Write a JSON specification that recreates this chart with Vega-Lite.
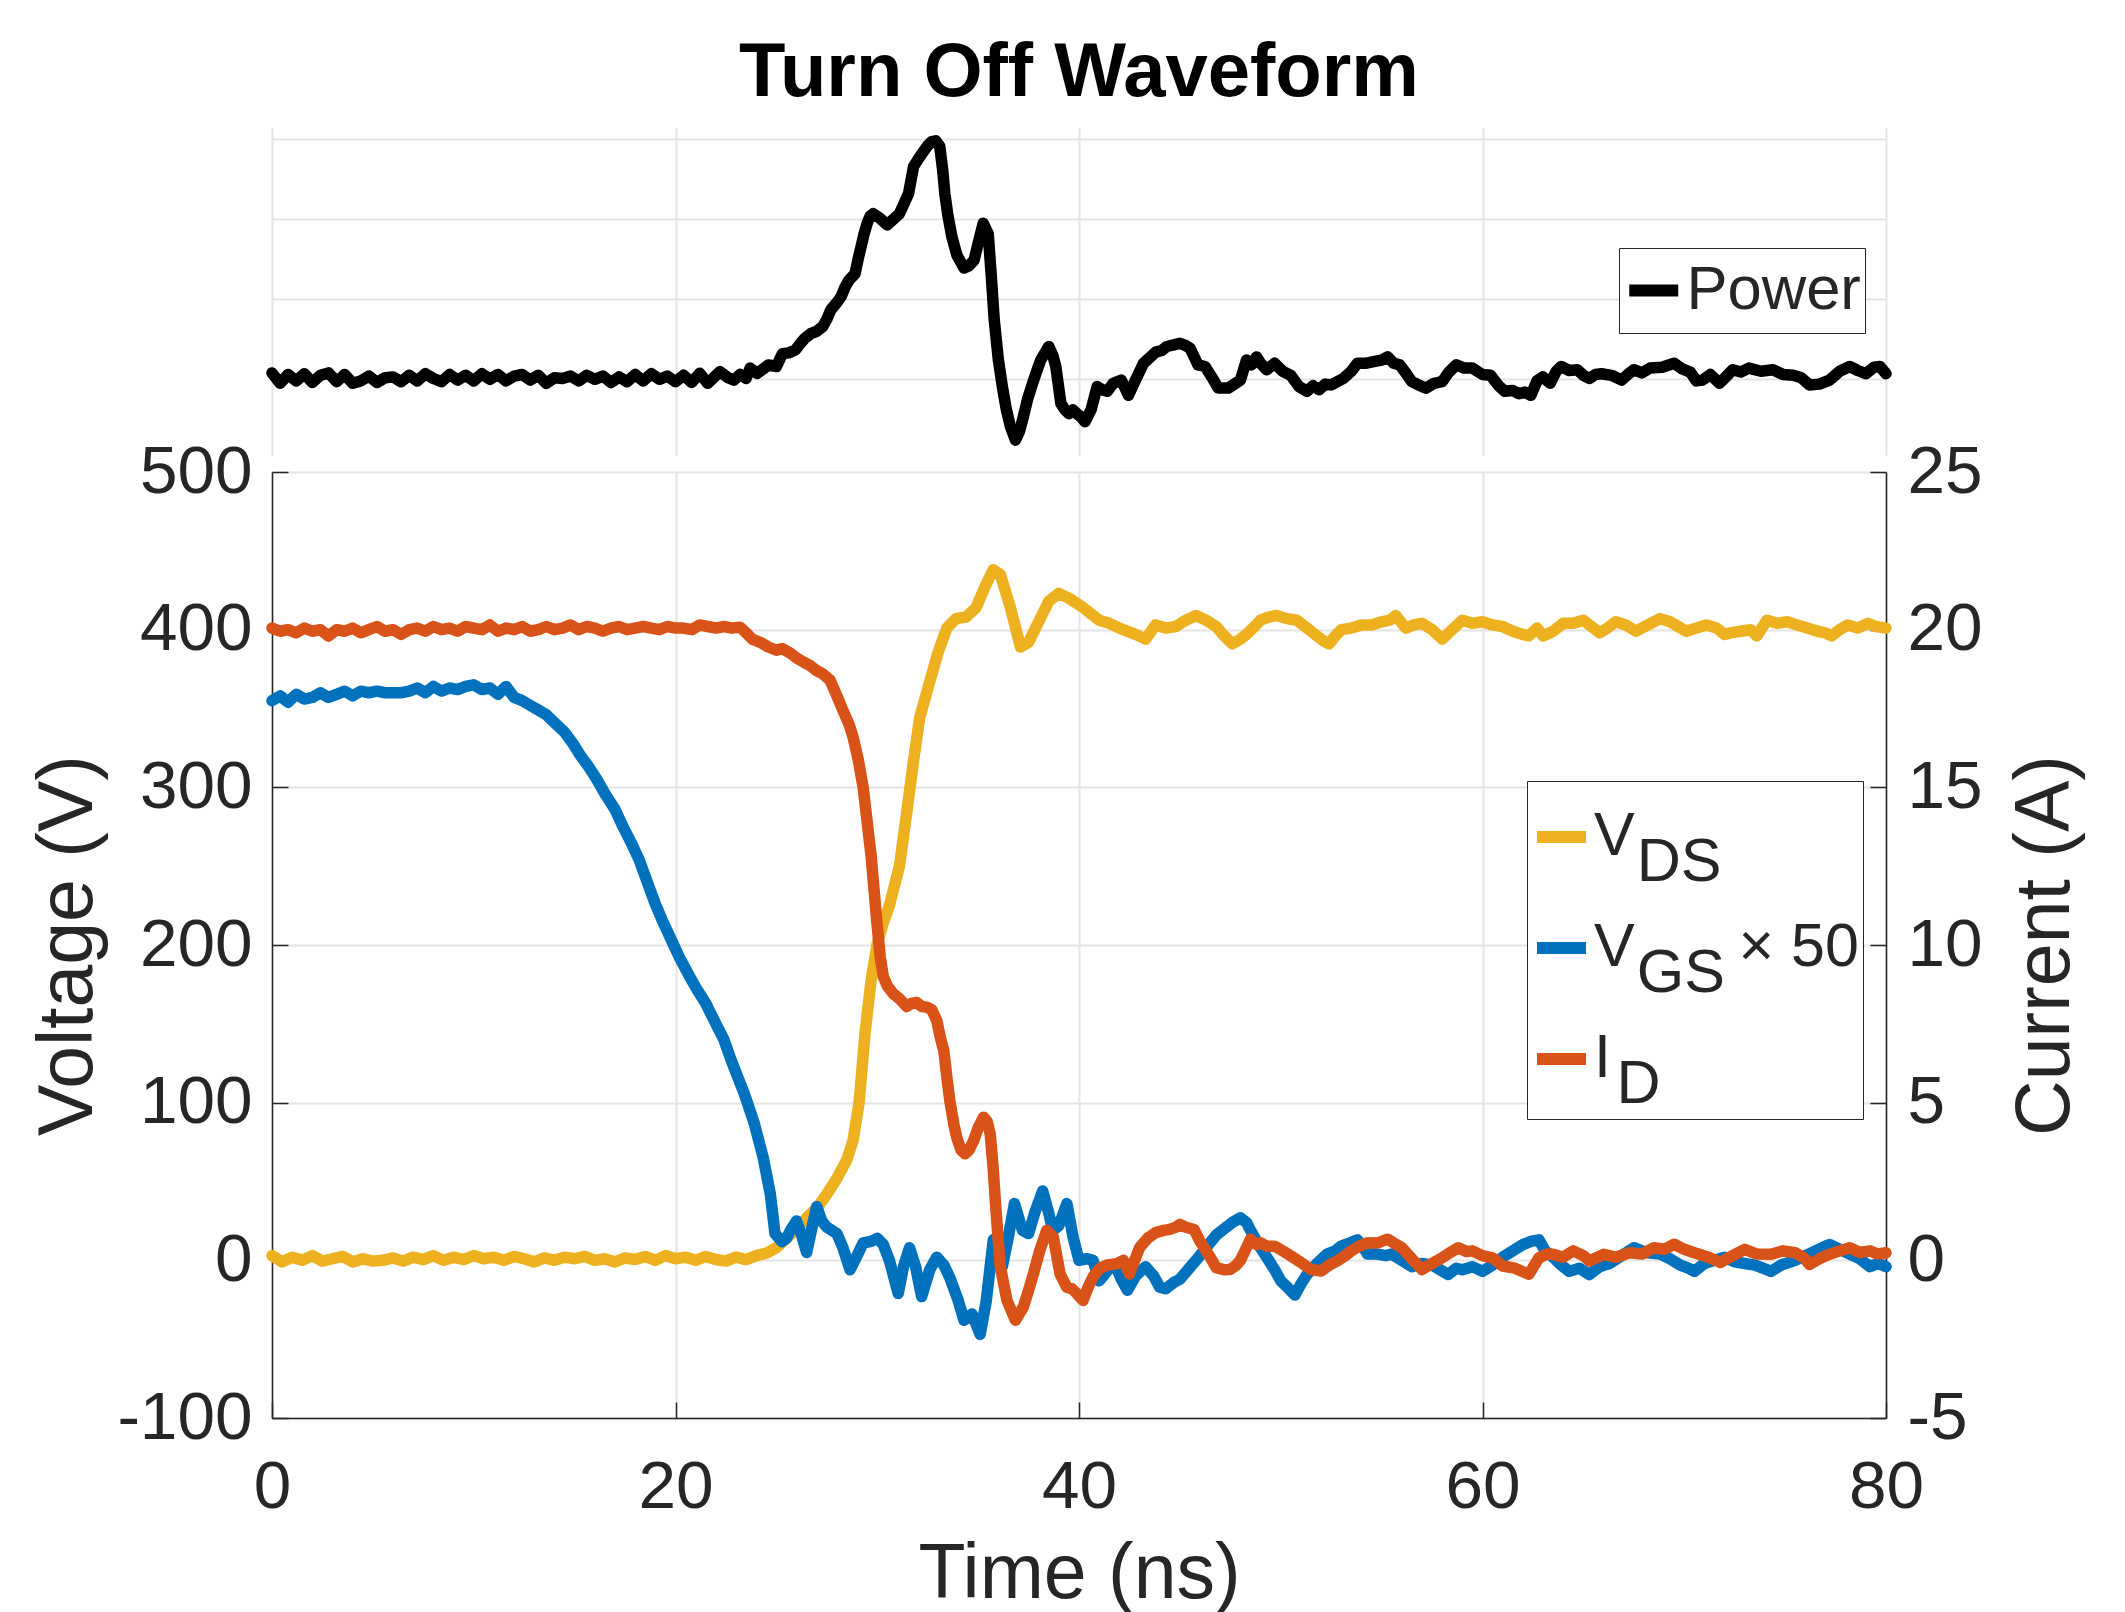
{
  "$schema": "https://vega.github.io/schema/vega-lite/v6.json",
  "width": 1614,
  "height": 1290,
  "autosize": {"type": "none"},
  "padding": {"left": 272, "top": 128, "right": 239, "bottom": 194},
  "background": "white",
  "title": {"text": "Turn Off Waveform", "fontSize": 76, "fontWeight": "bold", "anchor": "middle", "frame": "group", "offset": 30, "dy": 74, "baseline": "alphabetic", "color": "#000000", "font": "Liberation Sans"},
  "config": {
    "font": "Liberation Sans",
    "view": {"stroke": null},
    "axis": {"domainColor": "#262626", "domainWidth": 1.5, "tickColor": "#262626", "tickWidth": 1.5, "tickSize": -16, "labelColor": "#262626", "labelFont": "Liberation Sans", "labelFontSize": 67.5, "titleFont": "Liberation Sans", "titleFontSize": 77, "titleFontWeight": "normal", "titleColor": "#262626", "gridColor": "#e4e4e4", "gridWidth": 2, "labelOverlap": false},
    "legend": {"labelFont": "Liberation Sans", "labelColor": "#262626"},
    "style": {"guide-label": {"lineHeight": 26}}
  },
  "datasets": {
    "pw": [{"t":0,"v":0.08},{"t":0.4,"v":-0.05},{"t":0.8,"v":0.06},{"t":1.2,"v":-0.02},{"t":1.6,"v":0.07},{"t":2.0,"v":-0.04},{"t":2.4,"v":0.05},{"t":2.8,"v":0.08},{"t":3.2,"v":-0.03},{"t":3.6,"v":0.06},{"t":4.0,"v":-0.05},{"t":4.4,"v":-0.02},{"t":4.8,"v":0.04},{"t":5.2,"v":-0.04},{"t":5.6,"v":0.02},{"t":6.0,"v":0.03},{"t":6.4,"v":-0.03},{"t":6.8,"v":0.05},{"t":7.2,"v":-0.02},{"t":7.6,"v":0.07},{"t":8.0,"v":0.01},{"t":8.4,"v":-0.03},{"t":8.8,"v":0.06},{"t":9.2,"v":-0.01},{"t":9.6,"v":0.05},{"t":10.0,"v":-0.02},{"t":10.4,"v":0.07},{"t":10.8,"v":0.0},{"t":11.2,"v":0.06},{"t":11.6,"v":-0.02},{"t":12.0,"v":0.04},{"t":12.4,"v":0.06},{"t":12.8,"v":-0.01},{"t":13.2,"v":0.05},{"t":13.6,"v":-0.05},{"t":14.0,"v":0.02},{"t":14.4,"v":0.01},{"t":14.8,"v":0.04},{"t":15.2,"v":-0.02},{"t":15.6,"v":0.05},{"t":16.0,"v":0.0},{"t":16.4,"v":0.04},{"t":16.8,"v":-0.04},{"t":17.2,"v":0.03},{"t":17.6,"v":-0.03},{"t":18.0,"v":0.06},{"t":18.4,"v":-0.02},{"t":18.8,"v":0.07},{"t":19.2,"v":0.0},{"t":19.6,"v":0.04},{"t":20.0,"v":-0.03},{"t":20.4,"v":0.05},{"t":20.8,"v":-0.04},{"t":21.2,"v":0.075},{"t":21.6,"v":-0.05},{"t":22.2,"v":0.095},{"t":22.6,"v":0.02},{"t":22.9,"v":-0.01},{"t":23.2,"v":0.06},{"t":23.5,"v":0.01},{"t":23.7,"v":0.14},{"t":24.05,"v":0.075},{"t":24.35,"v":0.13},{"t":24.6,"v":0.18},{"t":25.0,"v":0.16},{"t":25.3,"v":0.32},{"t":25.6,"v":0.33},{"t":25.95,"v":0.37},{"t":26.2,"v":0.45},{"t":26.4,"v":0.51},{"t":26.7,"v":0.57},{"t":27.0,"v":0.6},{"t":27.3,"v":0.66},{"t":27.5,"v":0.75},{"t":27.7,"v":0.87},{"t":28.0,"v":0.96},{"t":28.2,"v":1.03},{"t":28.4,"v":1.15},{"t":28.6,"v":1.24},{"t":28.9,"v":1.32},{"t":29.05,"v":1.5},{"t":29.2,"v":1.66},{"t":29.35,"v":1.82},{"t":29.5,"v":1.95},{"t":29.65,"v":2.04},{"t":29.8,"v":2.07},{"t":30.1,"v":2.02},{"t":30.5,"v":1.93},{"t":30.8,"v":2.0},{"t":31.1,"v":2.07},{"t":31.3,"v":2.18},{"t":31.55,"v":2.32},{"t":31.8,"v":2.66},{"t":32.05,"v":2.76},{"t":32.3,"v":2.85},{"t":32.5,"v":2.92},{"t":32.7,"v":2.97},{"t":32.9,"v":2.98},{"t":33.1,"v":2.91},{"t":33.25,"v":2.6},{"t":33.35,"v":2.32},{"t":33.5,"v":2.05},{"t":33.7,"v":1.78},{"t":33.95,"v":1.55},{"t":34.3,"v":1.39},{"t":34.55,"v":1.42},{"t":34.8,"v":1.49},{"t":35.0,"v":1.7},{"t":35.25,"v":1.95},{"t":35.5,"v":1.82},{"t":35.65,"v":1.3},{"t":35.8,"v":0.74},{"t":36.0,"v":0.25},{"t":36.2,"v":-0.09},{"t":36.4,"v":-0.38},{"t":36.6,"v":-0.59},{"t":36.85,"v":-0.76},{"t":37.05,"v":-0.65},{"t":37.2,"v":-0.51},{"t":37.45,"v":-0.25},{"t":37.7,"v":-0.05},{"t":37.9,"v":0.1},{"t":38.1,"v":0.24},{"t":38.5,"v":0.41},{"t":38.7,"v":0.3},{"t":38.85,"v":0.16},{"t":39.1,"v":-0.3},{"t":39.3,"v":-0.38},{"t":39.5,"v":-0.43},{"t":39.7,"v":-0.38},{"t":39.9,"v":-0.43},{"t":40.1,"v":-0.47},{"t":40.3,"v":-0.53},{"t":40.6,"v":-0.38},{"t":40.9,"v":-0.09},{"t":41.15,"v":-0.13},{"t":41.4,"v":-0.15},{"t":41.7,"v":-0.05},{"t":42.1,"v":-0.01},{"t":42.45,"v":-0.2},{"t":42.8,"v":-0.01},{"t":43.2,"v":0.2},{"t":43.5,"v":0.27},{"t":43.8,"v":0.34},{"t":44.1,"v":0.36},{"t":44.35,"v":0.41},{"t":44.7,"v":0.43},{"t":45.0,"v":0.45},{"t":45.3,"v":0.42},{"t":45.5,"v":0.39},{"t":45.9,"v":0.18},{"t":46.25,"v":0.16},{"t":46.6,"v":0.02},{"t":46.9,"v":-0.11},{"t":47.4,"v":-0.11},{"t":48.0,"v":-0.01},{"t":48.3,"v":0.24},{"t":48.55,"v":0.18},{"t":48.8,"v":0.28},{"t":49.0,"v":0.2},{"t":49.3,"v":0.12},{"t":49.7,"v":0.2},{"t":50.1,"v":0.1},{"t":50.5,"v":0.05},{"t":50.9,"v":-0.09},{"t":51.3,"v":-0.15},{"t":51.6,"v":-0.08},{"t":51.9,"v":-0.13},{"t":52.2,"v":-0.06},{"t":52.5,"v":-0.07},{"t":53.1,"v":0.01},{"t":53.5,"v":0.1},{"t":53.8,"v":0.2},{"t":54.2,"v":0.2},{"t":54.6,"v":0.22},{"t":55.0,"v":0.24},{"t":55.3,"v":0.28},{"t":55.6,"v":0.2},{"t":55.9,"v":0.18},{"t":56.2,"v":0.08},{"t":56.5,"v":-0.03},{"t":56.9,"v":-0.08},{"t":57.2,"v":-0.11},{"t":57.6,"v":-0.05},{"t":58.0,"v":-0.03},{"t":58.3,"v":0.08},{"t":58.7,"v":0.18},{"t":59.1,"v":0.14},{"t":59.5,"v":0.14},{"t":60.0,"v":0.06},{"t":60.4,"v":0.05},{"t":60.8,"v":-0.08},{"t":61.1,"v":-0.15},{"t":61.5,"v":-0.14},{"t":61.8,"v":-0.18},{"t":62.1,"v":-0.16},{"t":62.4,"v":-0.2},{"t":62.7,"v":-0.02},{"t":63.0,"v":0.03},{"t":63.35,"v":-0.05},{"t":63.65,"v":0.1},{"t":63.9,"v":0.16},{"t":64.3,"v":0.11},{"t":64.7,"v":0.12},{"t":65.0,"v":0.05},{"t":65.3,"v":0.01},{"t":65.6,"v":0.06},{"t":65.9,"v":0.07},{"t":66.4,"v":0.05},{"t":66.9,"v":-0.01},{"t":67.2,"v":0.06},{"t":67.5,"v":0.12},{"t":67.9,"v":0.08},{"t":68.3,"v":0.14},{"t":68.9,"v":0.15},{"t":69.5,"v":0.2},{"t":69.9,"v":0.13},{"t":70.3,"v":0.09},{"t":70.6,"v":-0.02},{"t":70.9,"v":-0.01},{"t":71.3,"v":0.06},{"t":71.75,"v":-0.05},{"t":72.1,"v":0.04},{"t":72.4,"v":0.12},{"t":72.8,"v":0.09},{"t":73.2,"v":0.14},{"t":73.8,"v":0.1},{"t":74.4,"v":0.12},{"t":74.9,"v":0.06},{"t":75.4,"v":0.05},{"t":75.8,"v":0.02},{"t":76.2,"v":-0.07},{"t":76.7,"v":-0.06},{"t":77.2,"v":-0.01},{"t":77.7,"v":0.1},{"t":78.2,"v":0.16},{"t":78.6,"v":0.11},{"t":79.0,"v":0.07},{"t":79.4,"v":0.15},{"t":79.7,"v":0.16},{"t":80,"v":0.07}],
    "vds": [{"t":0,"v":3},{"t":0.5,"v":-1},{"t":1,"v":2},{"t":1.5,"v":0},{"t":2,"v":3},{"t":2.5,"v":-0.5},{"t":3,"v":1},{"t":3.5,"v":2.5},{"t":4,"v":-1},{"t":4.5,"v":1},{"t":5,"v":-0.5},{"t":5.5,"v":0},{"t":6,"v":1.5},{"t":6.5,"v":-0.5},{"t":7,"v":2},{"t":7.5,"v":0.5},{"t":8,"v":3},{"t":8.5,"v":0},{"t":9,"v":2},{"t":9.5,"v":0.5},{"t":10,"v":3},{"t":10.5,"v":1},{"t":11,"v":2},{"t":11.5,"v":0},{"t":12,"v":2.5},{"t":12.5,"v":1},{"t":13,"v":-1},{"t":13.5,"v":1.5},{"t":14,"v":0},{"t":14.5,"v":2},{"t":15,"v":1},{"t":15.5,"v":2.5},{"t":16,"v":0},{"t":16.5,"v":1},{"t":17,"v":-1},{"t":17.5,"v":1.5},{"t":18,"v":0.5},{"t":18.5,"v":2.5},{"t":19,"v":0},{"t":19.5,"v":3},{"t":20,"v":1},{"t":20.5,"v":2},{"t":21,"v":0},{"t":21.5,"v":2.5},{"t":22,"v":0.5},{"t":22.5,"v":-0.5},{"t":23,"v":2},{"t":23.5,"v":0.5},{"t":24,"v":3},{"t":24.5,"v":4.5},{"t":25,"v":8},{"t":25.5,"v":14},{"t":26,"v":20},{"t":26.5,"v":27},{"t":27,"v":33},{"t":27.5,"v":42},{"t":28,"v":52},{"t":28.5,"v":64},{"t":28.8,"v":76},{"t":29.1,"v":100},{"t":29.4,"v":145},{"t":29.7,"v":178},{"t":30.0,"v":201},{"t":30.3,"v":214},{"t":30.6,"v":225},{"t":31.1,"v":250},{"t":31.45,"v":283},{"t":31.8,"v":317},{"t":32.1,"v":344},{"t":32.6,"v":367},{"t":33.0,"v":385},{"t":33.45,"v":401},{"t":33.9,"v":407},{"t":34.4,"v":408},{"t":34.9,"v":414},{"t":35.4,"v":429},{"t":35.75,"v":438},{"t":36.1,"v":435},{"t":36.6,"v":414},{"t":37.1,"v":389},{"t":37.5,"v":392},{"t":38.0,"v":405},{"t":38.5,"v":418},{"t":39.0,"v":423},{"t":39.5,"v":420},{"t":40.2,"v":414},{"t":41.0,"v":406},{"t":41.5,"v":404},{"t":42.0,"v":401},{"t":42.8,"v":397},{"t":43.3,"v":394},{"t":43.8,"v":403},{"t":44.3,"v":401},{"t":44.8,"v":402},{"t":45.3,"v":406},{"t":45.8,"v":409},{"t":46.3,"v":406},{"t":46.8,"v":402},{"t":47.2,"v":396},{"t":47.6,"v":391},{"t":48.0,"v":394},{"t":48.3,"v":397},{"t":48.7,"v":402},{"t":49.0,"v":406},{"t":49.4,"v":408},{"t":49.8,"v":409},{"t":50.3,"v":407},{"t":50.8,"v":406},{"t":51.3,"v":401},{"t":51.8,"v":396},{"t":52.1,"v":393},{"t":52.4,"v":391},{"t":52.7,"v":396},{"t":53.0,"v":400},{"t":53.5,"v":401},{"t":54.0,"v":403},{"t":54.5,"v":403},{"t":55.0,"v":405},{"t":55.4,"v":406},{"t":55.7,"v":409},{"t":56.0,"v":404},{"t":56.2,"v":401},{"t":56.6,"v":403},{"t":57.0,"v":404},{"t":57.5,"v":400},{"t":58.0,"v":394},{"t":58.5,"v":400},{"t":59.0,"v":406},{"t":59.5,"v":404},{"t":60.0,"v":405},{"t":60.5,"v":403},{"t":61.0,"v":402},{"t":61.5,"v":399},{"t":62.0,"v":397},{"t":62.3,"v":396},{"t":62.7,"v":401},{"t":63.0,"v":396},{"t":63.5,"v":399},{"t":64.0,"v":404},{"t":64.5,"v":404},{"t":65.0,"v":406},{"t":65.4,"v":402},{"t":65.8,"v":398},{"t":66.2,"v":401},{"t":66.6,"v":405},{"t":67.1,"v":403},{"t":67.6,"v":399},{"t":68.2,"v":403},{"t":68.8,"v":407},{"t":69.3,"v":405},{"t":69.7,"v":402},{"t":70.1,"v":399},{"t":70.6,"v":401},{"t":71.1,"v":403},{"t":71.6,"v":401},{"t":72.0,"v":397},{"t":72.3,"v":398},{"t":72.8,"v":399},{"t":73.3,"v":400},{"t":73.6,"v":396},{"t":74.1,"v":406},{"t":74.6,"v":404},{"t":75.1,"v":405},{"t":75.6,"v":403},{"t":76.1,"v":401},{"t":76.6,"v":399},{"t":77.0,"v":398},{"t":77.3,"v":396},{"t":77.7,"v":400},{"t":78.1,"v":403},{"t":78.6,"v":401},{"t":79.1,"v":404},{"t":79.5,"v":402},{"t":80,"v":401}],
    "vgs": [{"t":0,"v":355},{"t":0.4,"v":358},{"t":0.8,"v":354},{"t":1.2,"v":359},{"t":1.6,"v":356},{"t":2.0,"v":357},{"t":2.4,"v":360},{"t":2.8,"v":357},{"t":3.2,"v":359},{"t":3.6,"v":361},{"t":4.0,"v":358},{"t":4.4,"v":361},{"t":4.8,"v":360},{"t":5.2,"v":361},{"t":5.6,"v":360},{"t":6.0,"v":360},{"t":6.4,"v":360},{"t":6.8,"v":361},{"t":7.2,"v":363},{"t":7.6,"v":360},{"t":8.0,"v":364},{"t":8.4,"v":361},{"t":8.8,"v":363},{"t":9.2,"v":362},{"t":9.6,"v":364},{"t":10.0,"v":365},{"t":10.4,"v":362},{"t":10.8,"v":363},{"t":11.2,"v":359},{"t":11.6,"v":364},{"t":12.0,"v":357},{"t":12.4,"v":355},{"t":12.8,"v":352},{"t":13.2,"v":349},{"t":13.6,"v":346},{"t":14.0,"v":341},{"t":14.5,"v":335},{"t":14.9,"v":328},{"t":15.3,"v":320},{"t":15.7,"v":313},{"t":16.1,"v":305},{"t":16.5,"v":296},{"t":17.0,"v":286},{"t":17.4,"v":275},{"t":17.8,"v":265},{"t":18.2,"v":254},{"t":18.6,"v":240},{"t":19.0,"v":226},{"t":19.4,"v":214},{"t":19.8,"v":203},{"t":20.2,"v":192},{"t":20.7,"v":180},{"t":21.1,"v":171},{"t":21.5,"v":163},{"t":22.0,"v":150},{"t":22.4,"v":140},{"t":22.7,"v":129},{"t":23.0,"v":119},{"t":23.4,"v":106},{"t":23.9,"v":87},{"t":24.35,"v":65},{"t":24.7,"v":42},{"t":24.93,"v":17},{"t":25.27,"v":12},{"t":25.5,"v":14},{"t":25.7,"v":19},{"t":26.0,"v":25},{"t":26.25,"v":16},{"t":26.5,"v":5},{"t":26.75,"v":20},{"t":27.0,"v":34},{"t":27.25,"v":25},{"t":27.5,"v":21},{"t":28.0,"v":17},{"t":28.3,"v":8},{"t":28.65,"v":-6},{"t":29.0,"v":3},{"t":29.3,"v":11},{"t":29.7,"v":12},{"t":30.0,"v":14},{"t":30.3,"v":10},{"t":30.6,"v":0},{"t":31.04,"v":-21},{"t":31.3,"v":-4},{"t":31.6,"v":8},{"t":31.9,"v":-4},{"t":32.2,"v":-23},{"t":32.6,"v":-6},{"t":32.95,"v":2},{"t":33.3,"v":-3},{"t":33.6,"v":-11},{"t":34.0,"v":-25},{"t":34.3,"v":-38},{"t":34.7,"v":-34},{"t":35.1,"v":-47},{"t":35.4,"v":-26},{"t":35.75,"v":13},{"t":36.0,"v":6},{"t":36.2,"v":-4},{"t":36.5,"v":15},{"t":36.8,"v":36},{"t":37.2,"v":19},{"t":37.5,"v":17},{"t":37.8,"v":30},{"t":38.2,"v":44},{"t":38.5,"v":30},{"t":38.7,"v":19},{"t":39.0,"v":22},{"t":39.4,"v":36},{"t":39.7,"v":15},{"t":40.0,"v":0},{"t":40.4,"v":1},{"t":40.7,"v":0},{"t":41.0,"v":-13},{"t":41.2,"v":-10},{"t":41.5,"v":-5},{"t":41.8,"v":-3},{"t":42.1,"v":-12},{"t":42.4,"v":-19},{"t":42.8,"v":-10},{"t":43.3,"v":-4},{"t":43.7,"v":-10},{"t":44.0,"v":-17},{"t":44.3,"v":-18},{"t":44.7,"v":-14},{"t":45.0,"v":-12},{"t":45.4,"v":-6},{"t":45.8,"v":0},{"t":46.3,"v":8},{"t":46.8,"v":16},{"t":47.2,"v":20},{"t":47.6,"v":24},{"t":48.0,"v":27},{"t":48.3,"v":24},{"t":48.5,"v":19},{"t":48.9,"v":10},{"t":49.3,"v":2},{"t":49.7,"v":-6},{"t":50.0,"v":-13},{"t":50.4,"v":-18},{"t":50.7,"v":-22},{"t":51.0,"v":-15},{"t":51.3,"v":-9},{"t":51.8,"v":-2},{"t":52.3,"v":4},{"t":52.7,"v":6},{"t":53.0,"v":9},{"t":53.4,"v":11},{"t":53.8,"v":13},{"t":54.1,"v":8},{"t":54.3,"v":4},{"t":54.8,"v":4},{"t":55.2,"v":3},{"t":55.5,"v":4},{"t":56.0,"v":0},{"t":56.5,"v":-4},{"t":57.0,"v":-2},{"t":57.5,"v":-3},{"t":57.9,"v":-6},{"t":58.3,"v":-9},{"t":58.7,"v":-5},{"t":59.0,"v":-6},{"t":59.5,"v":-4},{"t":60.0,"v":-7},{"t":60.5,"v":-3},{"t":61.0,"v":2},{"t":61.5,"v":6},{"t":62.0,"v":10},{"t":62.4,"v":12},{"t":62.8,"v":13},{"t":63.1,"v":6},{"t":63.5,"v":2},{"t":63.9,"v":-3},{"t":64.3,"v":-7},{"t":64.8,"v":-5},{"t":65.3,"v":-9},{"t":65.8,"v":-4},{"t":66.3,"v":-2},{"t":66.9,"v":3},{"t":67.5,"v":8},{"t":68.1,"v":5},{"t":68.8,"v":4},{"t":69.3,"v":1},{"t":69.8,"v":-3},{"t":70.2,"v":-5},{"t":70.5,"v":-7},{"t":71.0,"v":-2},{"t":71.5,"v":0},{"t":72.0,"v":2},{"t":72.5,"v":-1},{"t":73.0,"v":-2},{"t":73.5,"v":-3},{"t":73.9,"v":-5},{"t":74.3,"v":-7},{"t":74.8,"v":-3},{"t":75.5,"v":0},{"t":76.0,"v":3},{"t":76.5,"v":6},{"t":77.0,"v":9},{"t":77.2,"v":10},{"t":77.7,"v":7},{"t":78.2,"v":4},{"t":78.7,"v":1},{"t":79.2,"v":-4},{"t":79.6,"v":-2},{"t":80,"v":-4}],
    "id": [{"t":0,"v":20.05},{"t":0.4,"v":19.95},{"t":0.8,"v":20.0},{"t":1.2,"v":19.9},{"t":1.6,"v":20.05},{"t":2.0,"v":19.95},{"t":2.4,"v":20.0},{"t":2.8,"v":19.8},{"t":3.2,"v":20.0},{"t":3.6,"v":19.95},{"t":4.0,"v":20.05},{"t":4.4,"v":19.9},{"t":4.8,"v":20.0},{"t":5.2,"v":20.1},{"t":5.6,"v":19.95},{"t":6.0,"v":20.0},{"t":6.4,"v":19.85},{"t":6.8,"v":20.0},{"t":7.2,"v":20.05},{"t":7.6,"v":19.95},{"t":8.0,"v":20.1},{"t":8.4,"v":20.0},{"t":8.8,"v":20.05},{"t":9.2,"v":19.95},{"t":9.6,"v":20.1},{"t":10.0,"v":20.05},{"t":10.4,"v":20.0},{"t":10.8,"v":20.15},{"t":11.2,"v":19.95},{"t":11.6,"v":20.05},{"t":12.0,"v":20.0},{"t":12.4,"v":20.1},{"t":12.8,"v":19.95},{"t":13.2,"v":20.0},{"t":13.6,"v":20.1},{"t":14.0,"v":20.0},{"t":14.4,"v":20.05},{"t":14.8,"v":20.15},{"t":15.2,"v":20.0},{"t":15.6,"v":20.1},{"t":16.0,"v":20.05},{"t":16.4,"v":19.95},{"t":16.8,"v":20.05},{"t":17.2,"v":20.1},{"t":17.6,"v":20.0},{"t":18.0,"v":20.05},{"t":18.4,"v":20.1},{"t":18.8,"v":20.05},{"t":19.2,"v":20.0},{"t":19.6,"v":20.1},{"t":20.0,"v":20.05},{"t":20.4,"v":20.05},{"t":20.8,"v":20.0},{"t":21.2,"v":20.15},{"t":21.6,"v":20.1},{"t":22.0,"v":20.05},{"t":22.4,"v":20.1},{"t":22.8,"v":20.05},{"t":23.2,"v":20.08},{"t":23.5,"v":19.9},{"t":23.8,"v":19.7},{"t":24.2,"v":19.6},{"t":24.6,"v":19.45},{"t":25.0,"v":19.35},{"t":25.3,"v":19.4},{"t":25.7,"v":19.25},{"t":26.0,"v":19.1},{"t":26.35,"v":18.97},{"t":26.7,"v":18.85},{"t":27.0,"v":18.7},{"t":27.3,"v":18.6},{"t":27.66,"v":18.4},{"t":28.0,"v":17.9},{"t":28.3,"v":17.44},{"t":28.6,"v":17.0},{"t":28.8,"v":16.6},{"t":29.05,"v":15.9},{"t":29.3,"v":15.0},{"t":29.5,"v":13.9},{"t":29.7,"v":12.8},{"t":29.97,"v":10.8},{"t":30.15,"v":9.6},{"t":30.3,"v":9.0},{"t":30.5,"v":8.7},{"t":30.8,"v":8.45},{"t":31.1,"v":8.3},{"t":31.46,"v":8.05},{"t":31.7,"v":8.15},{"t":31.95,"v":8.18},{"t":32.2,"v":8.05},{"t":32.45,"v":8.03},{"t":32.7,"v":7.95},{"t":32.95,"v":7.6},{"t":33.15,"v":7.0},{"t":33.3,"v":6.65},{"t":33.45,"v":5.8},{"t":33.6,"v":5.05},{"t":33.8,"v":4.3},{"t":33.94,"v":3.9},{"t":34.15,"v":3.5},{"t":34.35,"v":3.38},{"t":34.55,"v":3.5},{"t":34.78,"v":3.8},{"t":35.0,"v":4.2},{"t":35.27,"v":4.54},{"t":35.45,"v":4.4},{"t":35.6,"v":4.0},{"t":35.75,"v":2.9},{"t":35.85,"v":1.9},{"t":36.0,"v":0.6},{"t":36.1,"v":-0.2},{"t":36.43,"v":-1.27},{"t":36.85,"v":-1.9},{"t":37.24,"v":-1.48},{"t":37.5,"v":-0.95},{"t":37.74,"v":-0.43},{"t":38.05,"v":0.3},{"t":38.4,"v":0.95},{"t":38.73,"v":0.73},{"t":39.06,"v":-0.43},{"t":39.39,"v":-0.85},{"t":39.65,"v":-0.9},{"t":39.9,"v":-1.06},{"t":40.2,"v":-1.27},{"t":40.45,"v":-0.85},{"t":40.7,"v":-0.52},{"t":41.04,"v":-0.25},{"t":41.4,"v":-0.15},{"t":41.86,"v":-0.11},{"t":42.2,"v":0.0},{"t":42.5,"v":-0.43},{"t":43.0,"v":0.4},{"t":43.4,"v":0.7},{"t":43.8,"v":0.88},{"t":44.2,"v":0.95},{"t":44.5,"v":0.98},{"t":44.8,"v":1.05},{"t":45.0,"v":1.14},{"t":45.3,"v":1.05},{"t":45.7,"v":0.98},{"t":46.0,"v":0.6},{"t":46.2,"v":0.4},{"t":46.5,"v":0.1},{"t":46.8,"v":-0.23},{"t":47.2,"v":-0.3},{"t":47.5,"v":-0.29},{"t":47.8,"v":-0.15},{"t":48.0,"v":0.0},{"t":48.3,"v":0.4},{"t":48.5,"v":0.67},{"t":48.8,"v":0.5},{"t":49.0,"v":0.56},{"t":49.3,"v":0.45},{"t":49.7,"v":0.45},{"t":50.1,"v":0.3},{"t":50.5,"v":0.14},{"t":51.0,"v":-0.07},{"t":51.5,"v":-0.29},{"t":52.0,"v":-0.34},{"t":52.4,"v":-0.15},{"t":52.8,"v":-0.02},{"t":53.2,"v":0.15},{"t":53.5,"v":0.3},{"t":53.9,"v":0.45},{"t":54.3,"v":0.56},{"t":54.8,"v":0.55},{"t":55.3,"v":0.67},{"t":55.6,"v":0.55},{"t":56.0,"v":0.4},{"t":56.5,"v":0.05},{"t":57.0,"v":-0.29},{"t":57.5,"v":-0.1},{"t":58.0,"v":0.08},{"t":58.4,"v":0.25},{"t":58.8,"v":0.4},{"t":59.2,"v":0.28},{"t":59.5,"v":0.3},{"t":60.0,"v":0.15},{"t":60.5,"v":0.08},{"t":61.0,"v":-0.18},{"t":61.6,"v":-0.25},{"t":62.3,"v":-0.44},{"t":62.8,"v":0.08},{"t":63.2,"v":0.2},{"t":63.5,"v":0.19},{"t":64.0,"v":0.1},{"t":64.5,"v":0.3},{"t":65.0,"v":0.15},{"t":65.3,"v":-0.02},{"t":65.7,"v":0.1},{"t":66.0,"v":0.19},{"t":66.6,"v":0.1},{"t":67.3,"v":0.24},{"t":67.9,"v":0.2},{"t":68.5,"v":0.4},{"t":69.0,"v":0.35},{"t":69.5,"v":0.51},{"t":70.0,"v":0.35},{"t":70.5,"v":0.24},{"t":71.2,"v":0.1},{"t":71.8,"v":-0.07},{"t":72.4,"v":0.15},{"t":73.0,"v":0.35},{"t":73.6,"v":0.2},{"t":74.3,"v":0.19},{"t":74.9,"v":0.3},{"t":75.5,"v":0.24},{"t":75.9,"v":0.1},{"t":76.2,"v":-0.13},{"t":76.7,"v":0.05},{"t":77.2,"v":0.19},{"t":77.7,"v":0.3},{"t":78.2,"v":0.4},{"t":78.7,"v":0.25},{"t":79.2,"v":0.3},{"t":79.6,"v":0.2},{"t":80,"v":0.24}]
  },
  "layer": [
    {
      "data": {"name": "pw"},
      "mark": {"type": "line", "strokeWidth": 11.5, "strokeJoin": "round", "strokeCap": "round"},
      "encoding": {
        "x": {"field": "t", "type": "quantitative", "scale": {"domain": [0, 80], "nice": false, "zero": false},
              "axis": {"orient": "top", "values": [0, 20, 40, 60, 80], "grid": true, "labels": false, "ticks": false, "domain": false, "title": null}},
        "y": {"field": "v", "type": "quantitative", "scale": {"domain": [-0.946, 3.141], "range": [327, 0], "nice": false, "zero": false},
              "axis": {"orient": "left", "values": [0, 1, 2, 3], "labels": false, "ticks": false, "domain": false, "title": null, "grid": true}},
        "stroke": {"datum": "Power", "type": "nominal", "scale": {"domain": ["Power"], "range": ["#000000"]},
                   "legend": {"orient": "none", "legendX": 1347, "legendY": 120, "title": null, "symbolType": "stroke", "symbolSize": 2401, "symbolStrokeWidth": 12, "labelFontSize": 61.5, "labelOffset": 2, "labelLimit": 500, "strokeColor": "#262626", "fillColor": "white", "padding": 4, "clipHeight": 77}}
      }
    },
    {
      "data": {"name": "vds"},
      "mark": {"type": "line", "strokeWidth": 11.5, "strokeJoin": "round", "strokeCap": "round"},
      "encoding": {
        "x": {"field": "t", "type": "quantitative",
              "axis": {"orient": "top", "values": [0, 20, 40, 60, 80], "grid": true, "labels": false, "ticks": false, "domain": false, "title": null}},
        "y": {"field": "v", "type": "quantitative", "scale": {"domain": [-100, 500], "range": [1290, 344], "nice": false, "zero": false},
              "axis": {"orient": "left", "values": [-100, 0, 100, 200, 300, 400, 500], "labelExpr": "'' + datum.value", "grid": true, "labelPadding": 36, "title": "Voltage (V)", "titleX": -181, "titleY": 817, "titleAngle": 270, "titleBaseline": "alphabetic", "titleAlign": "center", "labelFlush": false}},
        "color": {"datum": "V_DS", "type": "nominal", "scale": {"domain": ["V_DS", "V_GS", "I_D"], "range": ["#EDB120", "#0072BD", "#D95319"]},
                  "legend": {"orient": "none", "legendX": 1255, "legendY": 653, "title": null, "direction": "vertical", "symbolType": "stroke", "symbolSize": 2401, "symbolStrokeWidth": 12, "labelFontSize": 61, "labelOffset": 2, "labelLimit": 600, "rowPadding": 3, "clipHeight": 104, "strokeColor": "#262626", "fillColor": "white", "padding": 4,
                             "labelExpr": "datum.label == 'V_DS' ? ['V', '\u200b\u2002\u2009DS'] : datum.label == 'V_GS' ? ['V\u2003\u2002\u2009\u00d7 50', '\u200b\u2002\u2009GS'] : ['I', '\u200b\u2009\u200a\u200aD']"}}
      }
    },
    {
      "data": {"name": "vgs"},
      "mark": {"type": "line", "strokeWidth": 11.5, "strokeJoin": "round", "strokeCap": "round"},
      "encoding": {
        "x": {"field": "t", "type": "quantitative", "axis": null},
        "y": {"field": "v", "type": "quantitative", "scale": {"domain": [-100, 500], "range": [1290, 344], "nice": false, "zero": false}, "axis": null},
        "color": {"datum": "V_GS", "type": "nominal"}
      }
    },
    {
      "data": {"name": "id"},
      "mark": {"type": "line", "strokeWidth": 11.5, "strokeJoin": "round", "strokeCap": "round"},
      "encoding": {
        "x": {"field": "t", "type": "quantitative",
              "axis": {"orient": "bottom", "values": [0, 20, 40, 60, 80], "grid": false, "labelPadding": 52, "title": "Time (ns)", "titleX": 807, "titleY": 179, "titleBaseline": "alphabetic", "titleAlign": "center", "labelFlush": false}},
        "y": {"field": "v", "type": "quantitative", "scale": {"domain": [-5, 25], "range": [1290, 344], "nice": false, "zero": false},
              "axis": {"orient": "right", "values": [-5, 0, 5, 10, 15, 20, 25], "labelExpr": "'' + datum.value", "grid": false, "labelPadding": 37, "title": "Current (A)", "titleX": 182, "titleY": 817, "titleAngle": 270, "titleBaseline": "alphabetic", "titleAlign": "center", "labelFlush": false}},
        "color": {"datum": "I_D", "type": "nominal"}
      }
    }
  ],
  "resolve": {"scale": {"y": "independent"}, "axis": {"y": "independent", "x": "independent"}}
}
